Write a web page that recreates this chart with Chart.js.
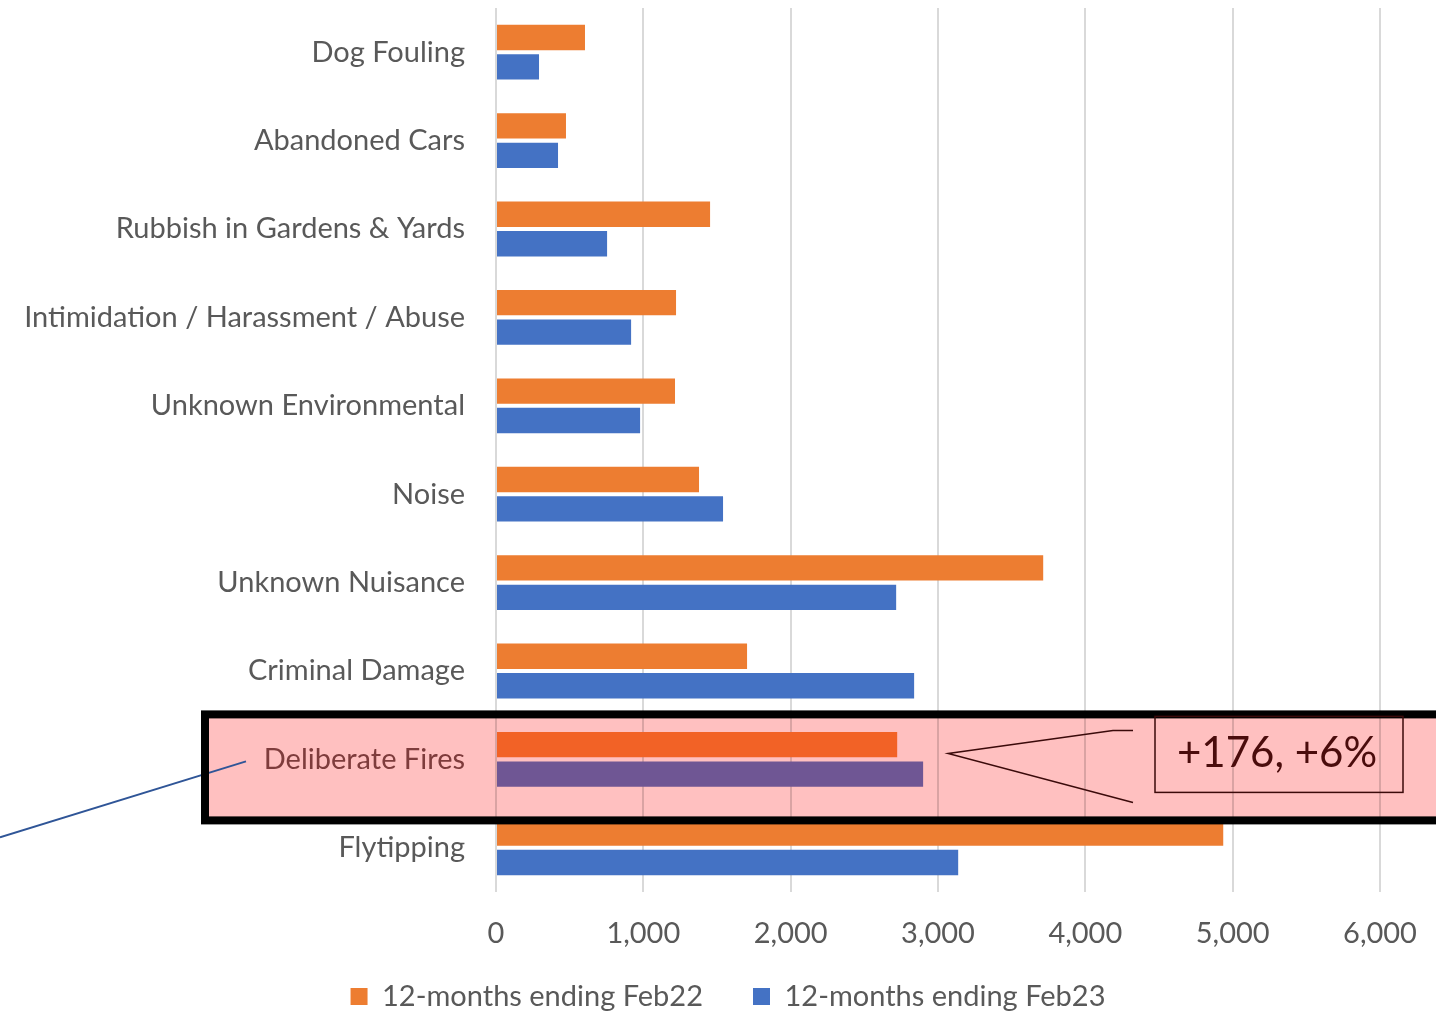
<!DOCTYPE html>
<html>
<head>
<meta charset="utf-8">
<script src="https://cdn.jsdelivr.net/npm/chart.js@4.4.1/dist/chart.umd.min.js"></script>
<style>
    html, body { margin: 0; padding: 0; background: #ffffff; }
    #wrap { width: 1436px; height: 1013px; position: relative; }
</style>
</head>
<body>
<div id="wrap"><canvas id="asbChart"></canvas></div>
<script>
// --------------------------------
// Data
// --------------------------------
const categories = [
    'Dog Fouling',
    'Abandoned Cars',
    'Rubbish in Gardens & Yards',
    'Intimidation / Harassment / Abuse',
    'Unknown Environmental',
    'Noise',
    'Unknown Nuisance',
    'Criminal Damage',
    'Deliberate Fires',
    'Flytipping'
];
const seriesNames = ['12-months ending Feb22', '12-months ending Feb23'];
const feb22 = [604, 475, 1453, 1222, 1215, 1378, 3714, 1704, 2723, 4936];
const feb23 = [292, 421, 754, 917, 978, 1541, 2716, 2838, 2899, 3137];
const xTicks = [0, 1000, 2000, 3000, 4000, 5000, 6000];

const highlighted = 'Deliberate Fires';
const hiIndex = categories.indexOf(highlighted);

const FONT = 'Lato';
const GREY = '#595959';

// per-bar colours, the highlighted row gets its own
const orangeCols = categories.map(c => c === highlighted ? '#F26226' : '#ED7D31');
const blueCols = categories.map(c => c === highlighted ? '#6F5694' : '#4472C4');

// --------------------------------
// Highlight band + callout, drawn around the scales
// --------------------------------
const highlightPlugin = {
    id: 'highlight',
    afterLayout(chart) {
        // x axis box is kept short for the layout, let its labels draw below it
        chart.scales.x.bottom = chart.height;
    },
    beforeDatasetsDraw(chart) {
        const ctx = chart.ctx;
        const y = chart.scales.y.getPixelForValue(hiIndex);
        ctx.save();
        ctx.globalCompositeOperation = 'multiply';
        ctx.fillStyle = '#FFC0C0';
        ctx.fillRect(205, y - 45, chart.width, 106);
        ctx.restore();
    },
    afterDraw(chart) {
        const ctx = chart.ctx;
        const xs = chart.scales.x;
        const y = chart.scales.y.getPixelForValue(hiIndex);
        ctx.save();

        // connector line coming in from the left
        ctx.strokeStyle = '#2F5597';
        ctx.lineWidth = 2;
        ctx.beginPath();
        ctx.moveTo(0, y + 78);
        ctx.lineTo(246, y + 2);
        ctx.stroke();

        // thick black frame
        ctx.strokeStyle = '#000000';
        ctx.lineWidth = 8;
        ctx.strokeRect(205, y - 45, chart.width + 20, 106);

        // callout pointer
        const tipX = xs.getPixelForValue(feb23[hiIndex]) + 25;
        ctx.strokeStyle = '#3B0A0A';
        ctx.lineWidth = 1.5;
        ctx.beginPath();
        ctx.moveTo(1133, y - 29);
        ctx.lineTo(1113, y - 29);
        ctx.lineTo(tipX, y - 6);
        ctx.lineTo(1133, y + 43);
        ctx.stroke();

        // callout box
        ctx.strokeRect(1155, y - 43, 248, 76);

        const diff = feb23[hiIndex] - feb22[hiIndex];
        const pct = Math.round(diff / feb22[hiIndex] * 100);
        ctx.fillStyle = '#4A0C0C';
        ctx.font = '42px ' + FONT;
        ctx.textAlign = 'center';
        ctx.textBaseline = 'middle';
        ctx.fillText('+' + diff + ', +' + pct + '%', 1277, y - 6);
        ctx.restore();
    }
};

const asbctx = document.getElementById('asbChart').getContext('2d');
const asbChart = new Chart(asbctx, {
    type: 'bar',
    data: {
        labels: categories,
        datasets: [
            {
                label: seriesNames[0],
                data: feb22,
                backgroundColor: orangeCols,
                borderWidth: 0
            },
            {
                label: seriesNames[1],
                data: feb23,
                backgroundColor: blueCols,
                borderWidth: 0
            }
        ]
    },
    options: {
        indexAxis: 'y',
        responsive: true,
        maintainAspectRatio: false,
        animation: false,
        events: [],
        datasets: {
            bar: {
                categoryPercentage: 0.667,
                barPercentage: 0.86
            }
        },
        layout: {
            padding: { top: 8, right: 0, bottom: -8, left: 20 }
        },
        plugins: {
            legend: {
                position: 'bottom',
                labels: {
                    // legend swatches are the normal colours, not the highlight ones
                    generateLabels(chart) {
                        return seriesNames.map((n, i) => ({
                            text: n,
                            fillStyle: i === 0 ? '#ED7D31' : '#4472C4',
                            strokeStyle: 'rgba(0,0,0,0)',
                            lineWidth: 0,
                            fontColor: GREY,
                            datasetIndex: i
                        }));
                    },
                    color: GREY,
                    boxWidth: 17,
                    boxHeight: 17,
                    padding: 50,
                    font: { family: FONT, size: 29 }
                }
            },
            tooltip: { enabled: false }
        },
        scales: {
            x: {
                min: xTicks[0],
                max: xTicks[xTicks.length - 1],
                afterBuildTicks(scale) {
                    scale.ticks = xTicks.map(v => ({ value: v }));
                },
                afterFit(scale) {
                    scale.height = 40;
                    scale.paddingLeft = 0;
                    scale.paddingRight = 56;
                },
                grid: {
                    color: '#D9D9D9',
                    lineWidth: 2,
                    drawTicks: false
                },
                border: { display: false },
                ticks: {
                    color: GREY,
                    padding: 24,
                    font: { family: FONT, size: 29 },
                    callback: v => Number(v).toLocaleString('en-US')
                }
            },
            y: {
                afterFit(scale) {
                    scale.width = 476;
                    scale.paddingTop = 0;
                    scale.paddingBottom = 0;
                },
                grid: { display: false, drawTicks: false },
                border: { display: false },
                ticks: {
                    padding: 31,
                    font: { family: FONT, size: 29 },
                    color: ctx => ctx.index === hiIndex ? '#7E4F4F' : GREY
                }
            }
        }
    },
    plugins: [highlightPlugin]
});
</script>
</body>
</html>
